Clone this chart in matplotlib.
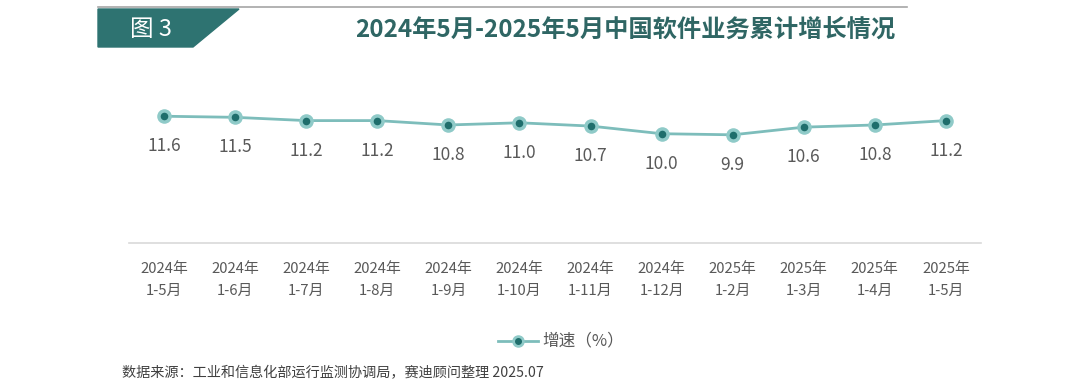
import matplotlib.pyplot as plt
from matplotlib.patches import Polygon
from matplotlib.lines import Line2D

plt.rcParams['font.family'] = ['Noto Sans CJK SC', 'DejaVu Sans']

years = ['2024年'] * 8 + ['2025年'] * 4
periods = ['1-5月', '1-6月', '1-7月', '1-8月', '1-9月', '1-10月', '1-11月',
           '1-12月', '1-2月', '1-3月', '1-4月', '1-5月']
growth = [11.6, 11.5, 11.2, 11.2, 10.8, 11.0, 10.7, 10.0, 9.9, 10.6, 10.8, 11.2]
labels = [y + '\n' + p for y, p in zip(years, periods)]

W, H = 1080, 386
fig = plt.figure(figsize=(W / 100, H / 100), dpi=100)

teal_dark = '#1f6e6c'
teal_line = '#7dbdbb'
gray_txt = '#595959'

# header
fig.add_artist(Line2D([98 / W, 907 / W], [1 - 7 / H, 1 - 7 / H], color='#a6a6a6', lw=1.2))
banner = Polygon([(98 / W, 1 - 9 / H), (239 / W, 1 - 9 / H), (193 / W, 1 - 47 / H), (98 / W, 1 - 47 / H)],
                 closed=True, color='#2e7371', transform=fig.transFigure)
fig.add_artist(banner)
fig.text(151 / W, 1 - 29 / H, '图 3', color='white', fontsize=17, ha='center', va='center')
fig.text(625 / W, 1 - 31 / H, '2024年5月-2025年5月中国软件业务累计增长情况', color='#2f6664',
         fontsize=17.5, fontweight='bold', ha='center', va='center')

ax = fig.add_axes([128.5 / W, (H - 243) / H, 853 / W, 153 / H])
x = range(len(growth))
ax.plot(x, growth, color=teal_line, lw=2, zorder=2)
ax.scatter(x, growth, s=110, color='#8fcac8', zorder=3, linewidths=0)
ax.scatter(x, growth, s=30, color=teal_dark, zorder=4, linewidths=0)
for i, v in enumerate(growth):
    ax.annotate(f'{v:.1f}', (i, v), xytext=(0, -30), textcoords='offset pixels',
                ha='center', va='center', fontsize=12.5, color=gray_txt)

ax.set_xlim(-0.5, len(growth) - 0.5)
ax.set_ylim(0, 14)
ax.set_xticks(list(x))
ax.set_xticklabels(labels, fontsize=10.7, color=gray_txt, linespacing=1.65)
ax.tick_params(axis='x', length=0, pad=14)
ax.set_yticks([])
for s in ['top', 'right', 'left']:
    ax.spines[s].set_visible(False)
ax.spines['bottom'].set_color('#d9d9d9')
ax.spines['bottom'].set_linewidth(1.2)

# legend
fig.add_artist(Line2D([498 / W, 538 / W], [1 - 341 / H] * 2, color=teal_line, lw=2))
fig.add_artist(Line2D([518 / W], [1 - 341 / H], marker='o', markersize=8, color='#8fcac8', lw=0))
fig.add_artist(Line2D([518 / W], [1 - 341 / H], marker='o', markersize=4, color=teal_dark, lw=0))
fig.text(542 / W, 1 - 341 / H, '增速（%）', fontsize=12, color=gray_txt, ha='left', va='center')

fig.text(122 / W, 1 - 373 / H, '数据来源：工业和信息化部运行监测协调局，赛迪顾问整理 2025.07',
         fontsize=10.2, color='#404040', ha='left', va='center')

fig.savefig('out.png', dpi=100, facecolor='white')
